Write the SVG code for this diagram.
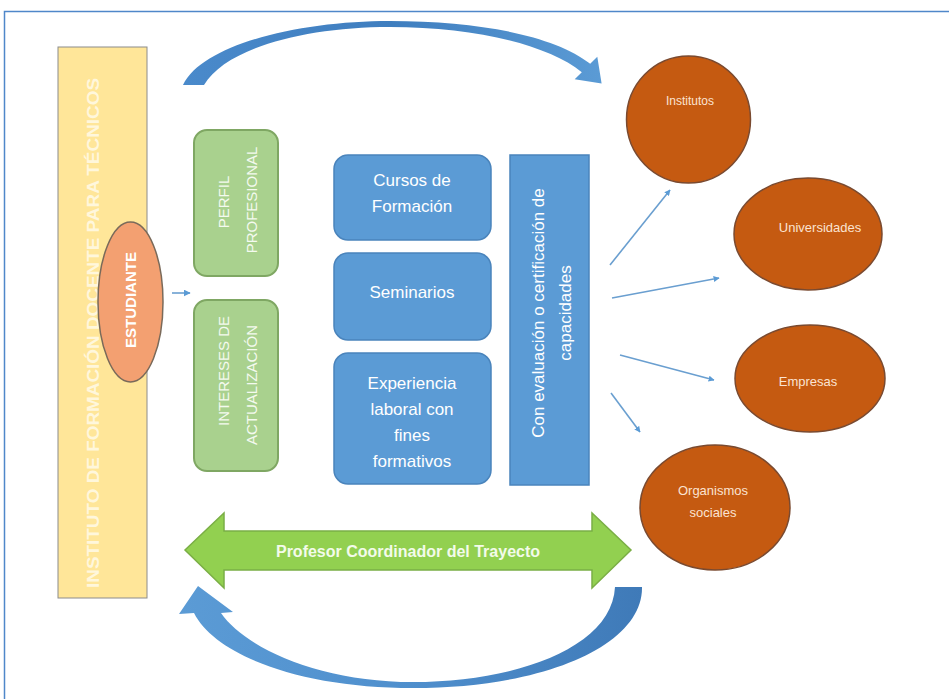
<svg xmlns="http://www.w3.org/2000/svg" width="949" height="699" viewBox="0 0 949 699">
<style>
text{font-family:"Liberation Sans","Noto Sans",Arial,sans-serif}
.lbl{fill:#ffffff;text-anchor:middle;dominant-baseline:central}
.org{fill:#C55A11;stroke:#7a4a30;stroke-width:1.5}
.orgt{fill:#FBE3D2;text-anchor:middle;dominant-baseline:central;font-size:12px}
.gbox{fill:#A9D18E;stroke:#7FA763;stroke-width:2}
.gt{fill:#F4FAEF;text-anchor:middle;dominant-baseline:central;font-size:15px}
.bbox{fill:#5B9BD5;stroke:#4A84BC;stroke-width:1.5}
.bt{fill:#ffffff;text-anchor:middle;dominant-baseline:central;font-size:17px}
.conn{stroke:#6A9FD0;stroke-width:1.6;fill:none;marker-end:url(#ah)}
</style>
<defs>
<marker id="ah" viewBox="0 0 10 10" refX="9" refY="5" markerWidth="6" markerHeight="6" orient="auto" markerUnits="userSpaceOnUse">
<path d="M0,0 L10,5 L0,10 z" fill="#5B9BD5"/>
</marker>
<marker id="ahs" viewBox="0 0 10 10" refX="9" refY="5" markerWidth="7" markerHeight="7" orient="auto" markerUnits="userSpaceOnUse">
<path d="M0,0 L10,5 L0,10 z" fill="#5B9BD5"/>
</marker>
<linearGradient id="ga" x1="0" y1="0" x2="1" y2="0">
<stop offset="0" stop-color="#4A8ACB"/>
<stop offset="0.5" stop-color="#3F7EBF"/>
<stop offset="1" stop-color="#5B9BD5"/>
</linearGradient>
<linearGradient id="gb" x1="0" y1="0" x2="1" y2="0">
<stop offset="0" stop-color="#5B9BD5"/>
<stop offset="0.5" stop-color="#4F8FCD"/>
<stop offset="1" stop-color="#3F7AB8"/>
</linearGradient>
</defs>
<rect width="949" height="699" fill="#ffffff"/>
<path d="M4.5,699 L4.5,11.5 L949,11.5" fill="none" stroke="#4F87C9" stroke-width="1.5"/>

<g id="instituto">
<rect x="58" y="47" width="89" height="551" fill="#FFE699" stroke="#8C8C8C" stroke-width="1"/>
<text transform="rotate(-90 93 333)" x="93" y="333" class="lbl" style="fill:#FFF7DC;font-weight:bold;font-size:17px" textLength="510" lengthAdjust="spacingAndGlyphs">INSTITUTO DE FORMACIÓN DOCENTE PARA TÉCNICOS</text>
</g>

<g id="estudiante">
<ellipse cx="130.5" cy="302" rx="32.5" ry="80" fill="#F3A071" stroke="#7a6a5a" stroke-width="1.5"/>
<text transform="rotate(-90 130 300)" x="130" y="300" class="lbl" style="font-size:15px;font-weight:bold">ESTUDIANTE</text>
</g>

<g id="perfil">
<rect x="194" y="130" width="84" height="146" rx="13" class="gbox"/>
<text transform="rotate(-90 223 202)" x="223" y="202" class="gt">PERFIL</text>
<text transform="rotate(-90 251 200)" x="251" y="200" class="gt">PROFESIONAL</text>
</g>

<g id="intereses">
<rect x="194" y="300" width="84" height="171" rx="13" class="gbox"/>
<text transform="rotate(-90 223 371)" x="223" y="371" class="gt">INTERESES DE</text>
<text transform="rotate(-90 251 385)" x="251" y="385" class="gt">ACTUALIZACIÓN</text>
</g>

<g id="cursos">
<rect x="334" y="155" width="157" height="85" rx="14" class="bbox"/>
<text x="412" y="180" class="bt">Cursos de</text>
<text x="412" y="206" class="bt">Formación</text>
</g>

<g id="seminarios">
<rect x="334" y="253" width="157" height="87" rx="14" class="bbox"/>
<text x="412" y="292" class="bt">Seminarios</text>
</g>

<g id="experiencia">
<rect x="334" y="353" width="157" height="131" rx="14" class="bbox"/>
<text x="412" y="383" class="bt">Experiencia</text>
<text x="412" y="409" class="bt">laboral con</text>
<text x="412" y="435" class="bt">fines</text>
<text x="412" y="461" class="bt">formativos</text>
</g>

<g id="evaluacion">
<rect x="510" y="155" width="79" height="330" class="bbox"/>
<text transform="rotate(-90 538 313)" x="538" y="313" class="bt">Con evaluación o certificación de</text>
<text transform="rotate(-90 565 313)" x="565" y="313" class="bt">capacidades</text>
</g>

<g id="institutos">
<ellipse cx="688.5" cy="119.5" rx="62" ry="63.5" class="org"/>
<text x="690" y="101" class="orgt">Institutos</text>
</g>

<g id="universidades">
<ellipse cx="808" cy="234" rx="74" ry="56" class="org"/>
<text x="820" y="227" class="orgt" style="font-size:13px">Universidades</text>
</g>

<g id="empresas">
<ellipse cx="810" cy="378.5" rx="75" ry="53.5" class="org"/>
<text x="808" y="381" class="orgt" style="font-size:13px">Empresas</text>
</g>

<g id="organismos">
<ellipse cx="715" cy="507.5" rx="75" ry="62.5" class="org"/>
<text x="713" y="490" class="orgt" style="font-size:13px">Organismos</text>
<text x="713" y="512" class="orgt" style="font-size:13px">sociales</text>
</g>

<g id="profesor">
<path d="M185,550 L224,513 L224,531 L592,531 L592,513 L631,550 L592,588 L592,570 L224,570 L224,588 Z" fill="#92D050" stroke="#7AAE45" stroke-width="1.5"/>
<text x="408" y="551" class="lbl" style="fill:#F3FBEA;font-size:16px;font-weight:bold">Profesor Coordinador del Trayecto</text>
</g>

<g id="connectors">
<path d="M183,85 C203,44 300,21 390,21 C480,21 555,36 590.2,63.8 L597.3,56.7 L601.6,83.6 L574.7,79.3 L581.8,72.2 C548,45 475,27 390,27 C305,27 226,48 204,85 Z" fill="url(#ga)"/>
<path d="M615,587 L642,587 C643,645 545,688 413,688 C300,688 215,655 194,613 L179,614 L198,586 L233,612 L221,613 C245,648 320,682 413,682 C515,682 612,648 615,587 Z" fill="url(#gb)"/>
<line x1="172" y1="293" x2="190" y2="293" class="conn" style="marker-end:url(#ahs)"/>
<line x1="610" y1="265" x2="670" y2="190" class="conn"/>
<line x1="612" y1="298" x2="719" y2="278" class="conn"/>
<line x1="620" y1="355" x2="714" y2="380" class="conn"/>
<line x1="611" y1="393" x2="640" y2="432" class="conn"/>
</g>
</svg>
